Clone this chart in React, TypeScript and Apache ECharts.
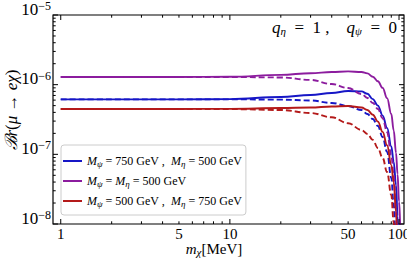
import React, { useEffect, useRef } from 'react';
import * as echarts from 'echarts';

// m_chi grid (MeV)
const mChi = [1, 2, 5, 10, 20, 30, 40, 50, 60, 65, 70, 75, 80, 85, 90, 93, 96, 98, 100, 102, 104];

// Br values
const blueSolid = [6.16e-7, 6.16e-7, 6.16e-7, 6.2e-7, 6.65e-7, 7.1e-7, 7.6e-7, 8.1e-7, 8.0e-7, 7.4e-7, 6.2e-7, 5.0e-7, 3.6e-7, 2.4e-7, 1.3e-7, 7.8e-8, 3.6e-8, 1.3e-8, 3e-9, 1e-10, 1e-10];
const blueDashed = [6.16e-7, 6.16e-7, 6.16e-7, 6.16e-7, 6.1e-7, 5.93e-7, 5.46e-7, 4.93e-7, 4.33e-7, 3.8e-7, 3.21e-7, 2.55e-7, 1.77e-7, 1.08e-7, 4.6e-8, 1.9e-8, 4e-9, 1e-10, 1e-10, 1e-10, 1e-10];
const purpleSolid = [1.29e-6, 1.29e-6, 1.29e-6, 1.3e-6, 1.38e-6, 1.46e-6, 1.52e-6, 1.55e-6, 1.52e-6, 1.45e-6, 1.3e-6, 1.12e-6, 9.0e-7, 6.4e-7, 3.8e-7, 2.2e-7, 1.05e-7, 5.2e-8, 2.1e-8, 9e-9, 1e-10];
const purpleDashed = [1.29e-6, 1.29e-6, 1.29e-6, 1.29e-6, 1.27e-6, 1.17e-6, 1.02e-6, 8.95e-7, 7.35e-7, 6.44e-7, 5.46e-7, 4.48e-7, 3.3e-7, 2.09e-7, 9.8e-8, 5.0e-8, 1.6e-8, 5e-9, 1e-10, 1e-10, 1e-10];
const redSolid = [4.48e-7, 4.48e-7, 4.48e-7, 4.5e-7, 4.62e-7, 4.7e-7, 4.86e-7, 4.93e-7, 4.7e-7, 4.33e-7, 3.7e-7, 2.95e-7, 2.1e-7, 1.35e-7, 7.0e-8, 4.0e-8, 1.5e-8, 4e-9, 1e-10, 1e-10, 1e-10];
const redDashed = [4.48e-7, 4.48e-7, 4.48e-7, 4.46e-7, 4.33e-7, 3.92e-7, 3.4e-7, 2.8e-7, 2.24e-7, 1.96e-7, 1.61e-7, 1.23e-7, 8.86e-8, 5.58e-8, 2.6e-8, 1.05e-8, 2e-9, 1e-10, 1e-10, 1e-10, 1e-10];

const limitValue = 9e-6;

// axes
const X_MIN = 0.9;
const X_MAX = 107;
const Y_MIN = 1e-8;
const Y_MAX = 1e-5;
const xMajorTicks = [1, 10, 100];
const xMinorTicks = [2, 3, 4, 5, 6, 7, 8, 9, 20, 30, 40, 50, 60, 70, 80, 90];
const xTickLabels = [1, 5, 10, 50, 100];
const yMajorTicks = [1e-8, 1e-7, 1e-6, 1e-5];
const yMinorTicks = [
  2e-8, 3e-8, 4e-8, 5e-8, 6e-8, 7e-8, 8e-8, 9e-8,
  2e-7, 3e-7, 4e-7, 5e-7, 6e-7, 7e-7, 8e-7, 9e-7,
  2e-6, 3e-6, 4e-6, 5e-6, 6e-6, 7e-6, 8e-6, 9e-6,
];

const SERIF = "'Liberation Serif', 'DejaVu Serif', serif";
const BLUE = '#1616c6';
const PURPLE = '#8c1c9e';
const RED = '#b41a1a';

const legendNames: Record<string, string> = {
  blue: '{i|M}{s|ψ}{n| = 750 GeV ,  }{i|M}{s|η}{n| = 500 GeV}',
  purple: '{i|M}{s|ψ}{n| = }{i|M}{s|η}{n| = 500 GeV}',
  red: '{i|M}{s|ψ}{n| = 500 GeV ,  }{i|M}{s|η}{n| = 750 GeV}',
};

function mathRich(size: number, sub: number) {
  return {
    n: { fontFamily: SERIF, fontSize: size, lineHeight: size + 2, color: '#000' },
    i: { fontFamily: SERIF, fontSize: size, fontStyle: 'italic', lineHeight: size + 2, color: '#000' },
    c: { fontFamily: "'DejaVu Serif', serif", fontSize: size, fontStyle: 'italic', lineHeight: size + 2, color: '#000' },
    s: { fontFamily: SERIF, fontSize: sub, fontStyle: 'italic', lineHeight: Math.round(sub * 0.6), verticalAlign: 'bottom', color: '#000' },
  };
}

function pairs(vals: number[]) {
  return mChi.map((m, i) => [m, vals[i]]);
}

function lineSeries(name: string, vals: number[], color: string, dashed: boolean) {
  return {
    type: 'line',
    name,
    data: pairs(vals),
    showSymbol: false,
    symbol: 'none',
    smooth: 0.4,
    smoothMonotone: 'x',
    clip: true,
    silent: true,
    lineStyle: { color, width: 1.9, type: dashed ? [6, 3] : 'solid' },
    itemStyle: { color },
    z: 3,
  };
}

function xTickSeries(values: number[], len: number) {
  return {
    type: 'custom',
    silent: true,
    z: 10,
    data: values.map((v) => [v, Y_MIN]),
    renderItem: (_p: any, api: any) => {
      const v = api.value(0);
      const b = api.coord([v, Y_MIN]);
      const t = api.coord([v, Y_MAX]);
      return {
        type: 'group',
        children: [
          { type: 'line', shape: { x1: b[0], y1: b[1], x2: b[0], y2: b[1] - len }, style: { stroke: '#000', lineWidth: 1 } },
          { type: 'line', shape: { x1: t[0], y1: t[1], x2: t[0], y2: t[1] + len }, style: { stroke: '#000', lineWidth: 1 } },
        ],
      };
    },
  };
}

function yTickSeries(values: number[], len: number) {
  return {
    type: 'custom',
    silent: true,
    z: 10,
    data: values.map((v) => [X_MIN, v]),
    renderItem: (_p: any, api: any) => {
      const v = api.value(1);
      const l = api.coord([X_MIN, v]);
      const r = api.coord([X_MAX, v]);
      return {
        type: 'group',
        children: [
          { type: 'line', shape: { x1: l[0], y1: l[1], x2: l[0] + len, y2: l[1] }, style: { stroke: '#000', lineWidth: 1 } },
          { type: 'line', shape: { x1: r[0], y1: r[1], x2: r[0] - len, y2: r[1] }, style: { stroke: '#000', lineWidth: 1 } },
        ],
      };
    },
  };
}

function xLabelSeries(values: number[]) {
  return {
    type: 'custom',
    silent: true,
    z: 10,
    data: values.map((v) => [v, Y_MIN]),
    renderItem: (_p: any, api: any) => {
      const v = api.value(0);
      const b = api.coord([v, Y_MIN]);
      return {
        type: 'text',
        x: b[0],
        y: b[1] + 2,
        style: { text: String(v), fontFamily: SERIF, fontSize: 15, fill: '#000', align: 'center', verticalAlign: 'top' },
      };
    },
  };
}

export default function App() {
  const ref = useRef<HTMLDivElement>(null);
  useEffect(() => {
    if (!ref.current) return;
    const chart = echarts.init(ref.current, null, { renderer: 'svg' });
    const option: any = {
      animation: false,
      backgroundColor: '#fff',
      grid: { left: 53, right: 3, top: 15, bottom: 34, show: true, borderColor: '#000', borderWidth: 1.2, backgroundColor: 'transparent' },
      xAxis: {
        type: 'log', logBase: 10, min: X_MIN, max: X_MAX, splitNumber: 2,
        axisLine: { show: false }, axisTick: { show: false }, axisLabel: { show: false }, splitLine: { show: false },
      },
      yAxis: {
        type: 'log', logBase: 10, min: Y_MIN, max: Y_MAX, splitNumber: 3,
        axisLine: { show: false }, axisTick: { show: false }, splitLine: { show: false },
        axisLabel: {
          margin: 2,
          padding: [0, 0, 12, 0],
          formatter: (v: number) => `{b|10}{s|−${Math.round(-Math.log10(v))}}`,
          rich: {
            b: { fontFamily: SERIF, fontSize: 17, lineHeight: 18, color: '#000' },
            s: { fontFamily: SERIF, fontSize: 12, lineHeight: 4, verticalAlign: 'top', color: '#000' },
          },
        },
      },
      legend: {
        data: ['blue', 'purple', 'red'],
        orient: 'vertical',
        left: 61,
        top: 145,
        width: 187,
        padding: [10, 4, 7, 2],
        itemGap: 7,
        itemWidth: 19,
        itemHeight: 2,
        icon: 'rect',
        backgroundColor: '#fff',
        borderColor: '#cccccc',
        borderWidth: 1,
        borderRadius: 3,
        selectedMode: false,
        formatter: (name: string) => legendNames[name],
        textStyle: { fontFamily: SERIF, fontSize: 12, color: '#000', rich: mathRich(12, 9) },
      },
      series: [
        {
          ...lineSeries('blue', blueSolid, BLUE, false),
          markLine: {
            silent: true,
            symbol: 'none',
            label: { show: false },
            lineStyle: { color: '#000', width: 1.2, type: [1.3, 3.2] },
            data: [{ yAxis: limitValue }],
          },
        },
        lineSeries('blueDashed', blueDashed, BLUE, true),
        lineSeries('purple', purpleSolid, PURPLE, false),
        lineSeries('purpleDashed', purpleDashed, PURPLE, true),
        lineSeries('red', redSolid, RED, false),
        lineSeries('redDashed', redDashed, RED, true),
        xTickSeries(xMajorTicks, 5),
        xTickSeries(xMinorTicks, 2.7),
        yTickSeries(yMajorTicks, 5),
        yTickSeries(yMinorTicks, 2.7),
        xLabelSeries(xTickLabels),
      ],
      graphic: [
        {
          type: 'text',
          x: 11,
          y: 110,
          rotation: Math.PI / 2,
          style: {
            text: '{c|ℬ}{i|r}{n|(}{i|μ}{n| → }{i|eχ}{n|)}',
            align: 'center',
            verticalAlign: 'middle',
            rich: mathRich(17, 12),
          },
        },
        {
          type: 'text',
          x: 214,
          y: 249,
          style: {
            text: '{i|m}{s|χ}{n|[MeV]}',
            align: 'center',
            verticalAlign: 'middle',
            rich: mathRich(15, 11),
          },
        },
        {
          type: 'text',
          x: 397,
          y: 27,
          style: {
            text: '{i|q}{s|η}{n|  =  1 ,    }{i|q}{s|ψ}{n|  =  0}',
            align: 'right',
            verticalAlign: 'middle',
            rich: mathRich(17, 11),
          },
        },
      ],
    };
    chart.setOption(option);
    return () => chart.dispose();
  }, []);
  return <div ref={ref} style={{ position: 'absolute', left: 0, top: 0, width: 407, height: 258 }} />;
}
